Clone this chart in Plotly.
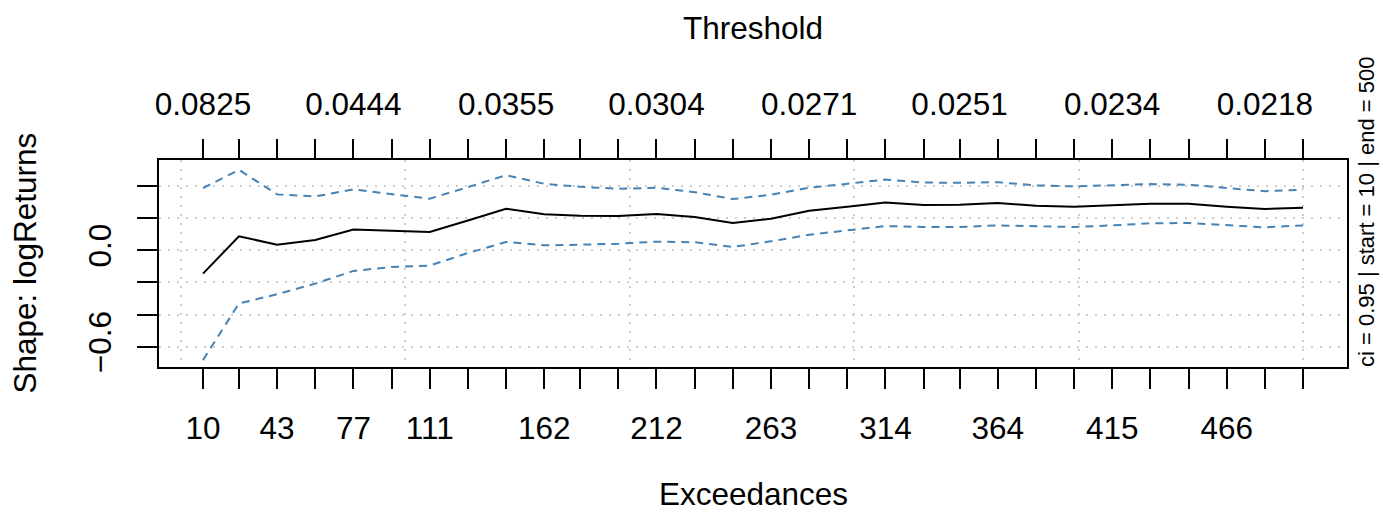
import plotly.graph_objects as go

# ---- data ----
exceedances = [10, 26, 43, 60, 77, 94, 111, 128, 145, 162, 178, 195, 212, 229, 246,
               263, 280, 297, 314, 331, 347, 364, 381, 398, 415, 432, 449, 466, 483, 500]
shape = [-0.145, 0.087, 0.035, 0.064, 0.130, 0.124, 0.114, 0.186, 0.259, 0.224,
         0.215, 0.213, 0.226, 0.207, 0.170, 0.197, 0.246, 0.271, 0.298, 0.282,
         0.284, 0.294, 0.278, 0.271, 0.280, 0.290, 0.290, 0.271, 0.257, 0.265]
upper = [0.387, 0.501, 0.348, 0.335, 0.379, 0.348, 0.321, 0.393, 0.468, 0.414,
         0.395, 0.383, 0.389, 0.362, 0.319, 0.346, 0.389, 0.414, 0.441, 0.422,
         0.420, 0.424, 0.404, 0.398, 0.406, 0.412, 0.408, 0.387, 0.368, 0.377]
lower = [-0.683, -0.331, -0.273, -0.207, -0.128, -0.104, -0.095, -0.017, 0.052, 0.031,
         0.035, 0.041, 0.054, 0.050, 0.021, 0.056, 0.097, 0.124, 0.151, 0.145,
         0.145, 0.155, 0.149, 0.145, 0.155, 0.168, 0.170, 0.155, 0.143, 0.155]

bottom_labels = ["10", "", "43", "", "77", "", "111", "", "", "162", "", "", "212", "", "",
                 "263", "", "", "314", "", "", "364", "", "", "415", "", "", "466", "", ""]
threshold_labels = ["0.0825", "", "", "", "0.0444", "", "", "", "0.0355", "", "", "",
                    "0.0304", "", "", "", "0.0271", "", "", "", "0.0251", "", "", "",
                    "0.0234", "", "", "", "0.0218", ""]
y_tickvals = [-0.6, -0.4, -0.2, 0.0, 0.2, 0.4]
y_ticktext = ["\u22120.6", "", "", "0.0", "", ""]
grid_x = [0, 100, 200, 300, 400, 500]

title_top = "Threshold"
title_bottom = "Exceedances"
title_y = "Shape: logReturns"
side_text = "ci = 0.95 | start = 10 | end = 500"

FONT = "Liberation Sans, Arial, Helvetica, sans-serif"
BLUE = "#4682B4"
FS = 31.5

fig = go.Figure()
fig.add_trace(go.Scatter(x=exceedances, y=upper, mode="lines",
                         line=dict(color=BLUE, width=2, dash="8px,6px"), hoverinfo="skip"))
fig.add_trace(go.Scatter(x=exceedances, y=lower, mode="lines",
                         line=dict(color=BLUE, width=2, dash="8px,6px"), hoverinfo="skip"))
fig.add_trace(go.Scatter(x=exceedances, y=shape, mode="lines",
                         line=dict(color="black", width=2), hoverinfo="skip"))
# helper traces so the overlay axes are drawn
fig.add_trace(go.Scatter(x=[exceedances[0]], y=[None], xaxis="x2", mode="lines",
                         hoverinfo="skip", showlegend=False))
fig.add_trace(go.Scatter(x=[exceedances[0]], y=[None], xaxis="x3", mode="lines",
                         hoverinfo="skip", showlegend=False))

xr = [-9.6, 519.6]
fig.update_layout(
    width=1383, height=515,
    margin=dict(l=159, r=36, t=160, b=148, pad=0),
    paper_bgcolor="white", plot_bgcolor="white",
    showlegend=False,
    font=dict(family=FONT, size=FS, color="black"),
    xaxis=dict(range=xr, tickmode="array", tickvals=exceedances, ticktext=bottom_labels,
               ticks="outside", ticklen=20, tickwidth=2, tickcolor="black",
               showline=True, linewidth=2, linecolor="black", mirror=True,
               showgrid=False, zeroline=False, tickangle=0,
               tickfont=dict(size=FS), ticklabelstandoff=12),
    xaxis2=dict(overlaying="x", side="top", matches="x", range=xr,
                tickmode="array", tickvals=exceedances, ticktext=threshold_labels,
                ticks="outside", ticklen=20, tickwidth=2, tickcolor="black",
                showline=False, showgrid=False, zeroline=False, tickangle=0,
                tickfont=dict(size=FS), ticklabelstandoff=11),
    xaxis3=dict(overlaying="x", matches="x", range=xr, tickmode="array", tickvals=grid_x,
                showticklabels=False, ticks="", showline=False, zeroline=False,
                showgrid=True, gridcolor="#CDCDCD", gridwidth=1.5, griddash="2px,7px"),
    yaxis=dict(range=[-0.726, 0.562], tickmode="array", tickvals=y_tickvals,
               ticktext=y_ticktext, tickangle=-90,
               ticks="outside", ticklen=20, tickwidth=2, tickcolor="black",
               showline=True, linewidth=2, linecolor="black", mirror=True,
               showgrid=True, gridcolor="#CDCDCD", gridwidth=1.5, griddash="2px,7px",
               zeroline=False, tickfont=dict(size=FS), ticklabelstandoff=13),
    annotations=[
        dict(text=title_top, xref="paper", yref="paper", x=0.5, y=(367 - 28) / 207,
             xanchor="center", yanchor="middle", showarrow=False, font=dict(size=FS)),
        dict(text=title_bottom, xref="paper", yref="paper", x=0.5, y=(367 - 514) / 207,
             xanchor="center", yanchor="bottom", showarrow=False, font=dict(size=FS)),
        dict(text=title_y, xref="paper", yref="paper", x=(24 - 159) / 1188.5, y=0.5,
             xanchor="center", yanchor="middle", textangle=-90, showarrow=False,
             font=dict(size=FS)),
        dict(text=side_text, xref="paper", yref="paper", x=(1367 - 159) / 1188.5,
             y=(367 - 211.5) / 207, xanchor="center", yanchor="middle", textangle=-90,
             showarrow=False, font=dict(size=22)),
    ],
)

fig.write_html("out.html")
